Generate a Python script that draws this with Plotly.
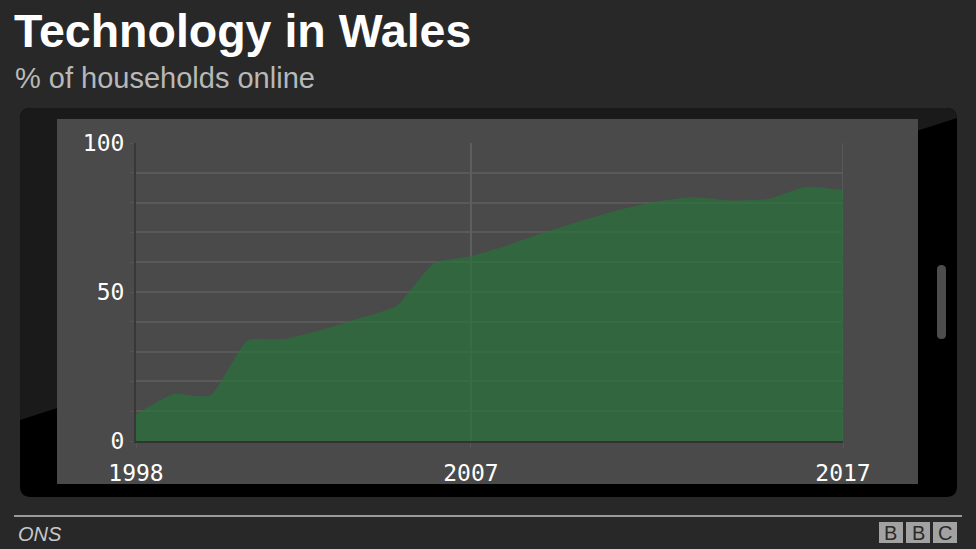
import plotly.graph_objects as go

# ---- data ----
years = list(range(1998, 2018))
households_online = [9.0, 15.7, 15.3, 33.7, 34.2, 37.3, 41.2, 45.3, 59.6, 62.0,
                     65.7, 70.1, 74.0, 77.6, 80.4, 81.8, 80.7, 81.2, 85.3, 84.2]
x_ticks = [1998, 2007, 2017]
y_ticks = [0, 50, 100]

title = "Technology in Wales"
subtitle = "% of households online"
source = "ONS"

W, H = 976, 549
ML, MR, MT, MB = 136, 133, 143, 108
PW, PH = W - ML - MR, H - MT - MB


def px(x):
    return (x - ML) / PW


def py(y):
    return (H - MB - y) / PH


def pt(x, y):
    return f"{px(x):.5f},{py(y):.5f}"


def rrect(x0, y0, x1, y1, r):
    return (f"M {pt(x0 + r, y0)} L {pt(x1 - r, y0)} Q {pt(x1, y0)} {pt(x1, y0 + r)} "
            f"L {pt(x1, y1 - r)} Q {pt(x1, y1)} {pt(x1 - r, y1)} "
            f"L {pt(x0 + r, y1)} Q {pt(x0, y1)} {pt(x0, y1 - r)} "
            f"L {pt(x0, y0 + r)} Q {pt(x0, y0)} {pt(x0 + r, y0)} Z")


fig = go.Figure()
fig.add_trace(go.Scatter(
    x=years, y=households_online, mode="lines", fill="tozeroy",
    fillcolor="rgba(41,113,58,0.72)", line=dict(width=0, color="rgba(41,113,58,0.72)",
                                                 shape="spline", smoothing=0.5),
    hoverinfo="x+y", showlegend=False))

shapes = [
    # phone body
    dict(type="path", path=rrect(20, 108, 957, 497, 11), fillcolor="#000000",
         line=dict(width=0), xref="paper", yref="paper", layer="below"),
    # reflection
    dict(type="path",
         path=f"M {pt(20, 420)} L {pt(20, 119)} Q {pt(20, 108)} {pt(31, 108)} "
              f"L {pt(946, 108)} Q {pt(957, 108)} {pt(957, 118)} Z",
         fillcolor="#1a1a1a", line=dict(width=0), xref="paper", yref="paper", layer="below"),
    # screen
    dict(type="rect", x0=px(57), x1=px(918), y0=py(484), y1=py(119),
         fillcolor="#4a4a4a", line=dict(width=0), xref="paper", yref="paper", layer="below"),
    # side button
    dict(type="path", path=rrect(937, 265, 946, 339, 4.5), fillcolor="#4d4d4d",
         line=dict(width=0), xref="paper", yref="paper", layer="below"),
    # footer rule
    dict(type="line", x0=px(14), x1=px(962), y0=py(516), y1=py(516),
         line=dict(color="#9a9a9a", width=2), xref="paper", yref="paper"),
    # right border of plot at 2017
    dict(type="line", x0=2017, x1=2017, y0=0, y1=100, xref="x", yref="y",
         line=dict(color="#5e5e5e", width=1.5), layer="below"),
]

annotations = [
    dict(text=f"<b>{title}</b>", x=px(12), y=py(31), xanchor="left", yanchor="middle",
         font=dict(family="Liberation Sans, Arial", size=46.5, color="#ffffff")),
    dict(text=subtitle, x=px(13), y=py(78), xanchor="left", yanchor="middle",
         font=dict(family="Liberation Sans, Arial", size=29, color="#b8b8b8")),
    dict(text=f"<i>{source}</i>", x=px(16), y=py(534), xanchor="left", yanchor="middle",
         font=dict(family="Liberation Sans, Arial", size=20, color="#c8c8c8")),
]

# BBC blocks
for i, letter in enumerate("BBC"):
    x0 = 879 + i * 27
    shapes.append(dict(type="rect", x0=px(x0), x1=px(x0 + 24), y0=py(543), y1=py(522),
                       fillcolor="#a2a2a2", line=dict(width=0), xref="paper", yref="paper"))
    annotations.append(dict(text=letter, x=px(x0 + 12), y=py(533), xanchor="center",
                            yanchor="middle", showarrow=False,
                            font=dict(family="Liberation Sans, Arial", size=20, color="#2a2a2a")))

for a in annotations:
    a.setdefault("showarrow", False)
    a["xref"] = "paper"
    a["yref"] = "paper"

tick_font = dict(family="DejaVu Sans Mono, monospace", size=23, color="#ffffff")

fig.update_layout(
    width=W, height=H,
    margin=dict(l=ML, r=MR, t=MT, b=MB, autoexpand=False),
    paper_bgcolor="#282828",
    plot_bgcolor="rgba(0,0,0,0)",
    shapes=shapes,
    annotations=annotations,
    xaxis=dict(range=[1998, 2017], tickvals=x_ticks, ticktext=[str(v) for v in x_ticks],
               showgrid=True, gridcolor="#5e5e5e", gridwidth=1.5,
               zeroline=False, showline=True, linecolor="#333333", linewidth=2,
               ticks="outside", ticklen=5, tickcolor="#555555",
               tickfont=tick_font, ticklabelstandoff=5, fixedrange=True),
    yaxis=dict(range=[0, 100], tickvals=y_ticks, ticktext=[str(v) for v in y_ticks],
               showgrid=True, gridcolor="#595959", gridwidth=1.5,
               minor=dict(dtick=10, showgrid=True, gridcolor="#595959", gridwidth=1.5,
                          ticks="outside", ticklen=4, tickcolor="#555555"),
               zeroline=False, showline=True, linecolor="#383838", linewidth=2,
               ticks="outside", ticklen=4, tickcolor="#555555",
               tickfont=tick_font, ticklabelstandoff=1, fixedrange=True),
)

fig.write_html("out.html")
